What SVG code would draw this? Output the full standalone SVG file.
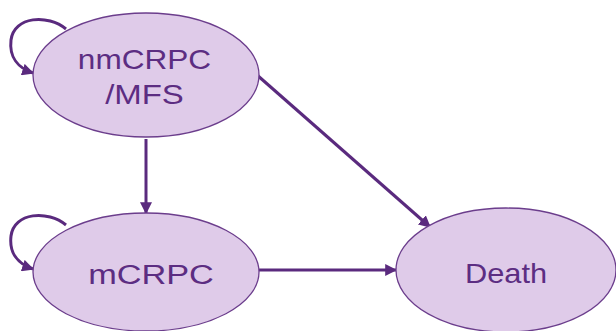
<svg xmlns="http://www.w3.org/2000/svg" width="616" height="331" viewBox="0 0 616 331">
<style>
.node ellipse{fill:#dfcbe9;stroke:#6b3d8c;stroke-width:1.3}
.node text{font-family:"Liberation Sans",Arial,sans-serif;font-size:27px;fill:#5c2d82;text-anchor:middle}
.edge{fill:none;stroke:#5a2a7e;stroke-width:3;marker-end:url(#ah)}
</style>
<defs>
<marker id="ah" viewBox="0 0 10 10" refX="9" refY="5" markerWidth="4" markerHeight="4" orient="auto" markerUnits="strokeWidth">
<path d="M0,0 L10,5 L0,10 z" fill="#5a2a7e"/>
</marker>
</defs>
<rect width="616" height="331" fill="#ffffff"/>
<g id="connectors">
<path class="edge" d="M66 29 C48 14, 14 16, 11 40 C9 57, 18 68, 33 73"/>
<path class="edge" d="M66 225 C48 210, 14 212, 11 236 C9 253, 18 264, 33 269"/>
<path class="edge" d="M146 139 L146 213"/>
<path class="edge" d="M257 75 L430 227"/>
<path class="edge" d="M259 270 L396 270"/>
</g>
<g id="node-nmcrpc" class="node">
<ellipse cx="146" cy="75" rx="113" ry="62"/>
<text transform="translate(144.5,69) scale(1.17,1)">nmCRPC</text>
<text transform="translate(144.5,104) scale(1.22,1)">/MFS</text>
</g>
<g id="node-mcrpc" class="node">
<ellipse cx="146" cy="272" rx="113" ry="59"/>
<text transform="translate(151,284) scale(1.27,1)">mCRPC</text>
</g>
<g id="node-death" class="node">
<ellipse cx="506" cy="270" rx="110" ry="62"/>
<text transform="translate(506,283) scale(1.14,1)">Death</text>
</g>
</svg>
